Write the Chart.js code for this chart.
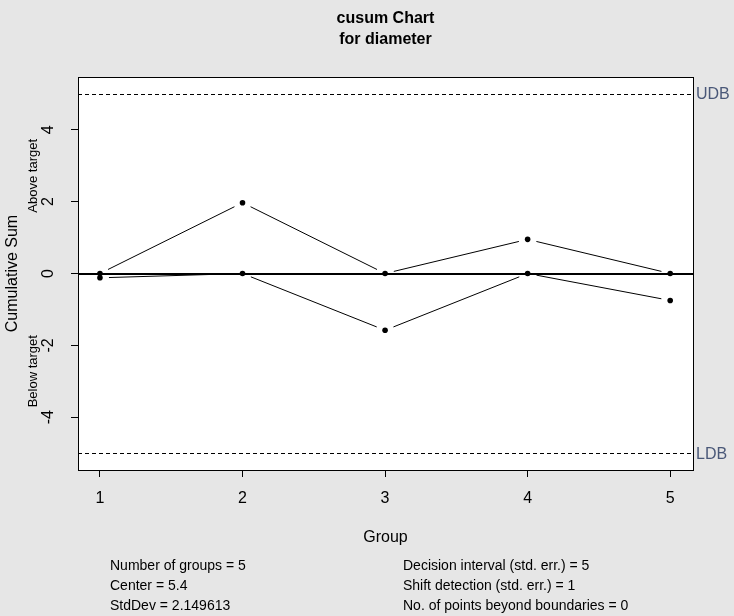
<!DOCTYPE html>
<html>
<head>
<meta charset="utf-8">
<script src="https://cdn.jsdelivr.net/npm/chart.js@4"></script>
<style>
  html, body { margin: 0; padding: 0; background: #e6e6e6; }
  #wrap { width: 734px; height: 616px; }
</style>
</head>
<body>
<div id="wrap"><canvas id="myChart" width="734" height="616"></canvas></div>
<script>
// data
let groups = [1, 2, 3, 4, 5];
let above = [0, 1.97, 0, 0.95, 0];
let below = [-0.12, 0, -1.58, 0, -0.75];
let yTicks = [-4, -2, 0, 2, 4];
let xTicks = [1, 2, 3, 4, 5];
let udb = 5;
let ldb = -5;
let statsLeft = ["Number of groups = 5", "Center = 5.4", "StdDev = 2.149613"];
let statsRight = ["Decision interval (std. err.) = 5", "Shift detection (std. err.) = 1", "No. of points beyond boundaries = 0"];

const font = "'Liberation Sans', Arial, sans-serif";

function toPoints(vals) {
  return groups.map((g, i) => ({ x: g, y: vals[i] }));
}

// draws lines like R type="b": segments that stop short of the points
function gappedLine(ctx, xs, ys, vals, gap) {
  ctx.save();
  ctx.strokeStyle = '#000';
  ctx.lineWidth = 1;
  for (let i = 0; i < vals.length - 1; i++) {
    let x0 = xs.getPixelForValue(groups[i]), y0 = ys.getPixelForValue(vals[i]);
    let x1 = xs.getPixelForValue(groups[i + 1]), y1 = ys.getPixelForValue(vals[i + 1]);
    let dx = x1 - x0, dy = y1 - y0, len = Math.sqrt(dx * dx + dy * dy);
    if (len < gap * 2) continue;
    let ux = dx / len, uy = dy / len;
    ctx.beginPath();
    ctx.moveTo(x0 + ux * gap, y0 + uy * gap);
    ctx.lineTo(x1 - ux * gap, y1 - uy * gap);
    ctx.stroke();
  }
  ctx.restore();
}

const cusumPlugin = {
  id: 'cusum',
  beforeDraw(chart) {
    const ctx = chart.ctx, a = chart.chartArea;
    ctx.save();
    ctx.fillStyle = '#e6e6e6';
    ctx.fillRect(0, 0, chart.width, chart.height);
    ctx.fillStyle = '#ffffff';
    ctx.fillRect(a.left, a.top, a.right - a.left, a.bottom - a.top);
    ctx.restore();
  },
  beforeDatasetsDraw(chart) {
    const ctx = chart.ctx, a = chart.chartArea;
    const xs = chart.scales.x, ys = chart.scales.y;
    ctx.save();
    // decision boundaries
    ctx.strokeStyle = '#000';
    ctx.lineWidth = 1;
    ctx.setLineDash([4, 3]);
    [udb, ldb].forEach(v => {
      let y = Math.round(ys.getPixelForValue(v)) + 0.5;
      ctx.beginPath();
      ctx.moveTo(a.left, y);
      ctx.lineTo(a.right, y);
      ctx.stroke();
    });
    ctx.setLineDash([]);
    // center line
    ctx.lineWidth = 2;
    let y0 = Math.round(ys.getPixelForValue(0));
    ctx.beginPath();
    ctx.moveTo(a.left, y0);
    ctx.lineTo(a.right, y0);
    ctx.stroke();
    ctx.restore();

    gappedLine(ctx, xs, ys, above, 9);
    gappedLine(ctx, xs, ys, below, 9);
  },
  afterDraw(chart) {
    const ctx = chart.ctx, a = chart.chartArea;
    const ys = chart.scales.y;
    ctx.save();
    // box
    ctx.strokeStyle = '#000';
    ctx.lineWidth = 1;
    ctx.strokeRect(Math.round(a.left) + 0.5, Math.round(a.top) + 0.5,
      Math.round(a.right - a.left), Math.round(a.bottom - a.top));

    // titles
    ctx.fillStyle = '#000';
    ctx.textAlign = 'center';
    ctx.textBaseline = 'middle';
    let cx = (a.left + a.right) / 2;
    ctx.font = "bold 16px " + font;
    ctx.fillText("cusum Chart", cx, 19);
    ctx.fillText("for diameter", cx, 40);

    ctx.font = "16px " + font;
    ctx.fillText("Group", cx, 538);

    // y tick labels, rotated
    yTicks.forEach(v => {
      let y = ys.getPixelForValue(v);
      ctx.save();
      ctx.translate(49, y);
      ctx.rotate(-Math.PI / 2);
      ctx.fillText(String(v), 0, 0);
      ctx.restore();
    });

    ctx.save();
    ctx.translate(13, ys.getPixelForValue(0));
    ctx.rotate(-Math.PI / 2);
    ctx.fillText("Cumulative Sum", 0, 0);
    ctx.restore();

    ctx.font = "13px " + font;
    ctx.save();
    ctx.translate(33, ys.getPixelForValue(2.72));
    ctx.rotate(-Math.PI / 2);
    ctx.fillText("Above target", 0, 0);
    ctx.restore();
    ctx.save();
    ctx.translate(33, ys.getPixelForValue(-2.72));
    ctx.rotate(-Math.PI / 2);
    ctx.fillText("Below target", 0, 0);
    ctx.restore();

    // boundary labels
    ctx.font = "16px " + font;
    ctx.fillStyle = '#4a5878';
    ctx.textAlign = 'left';
    ctx.fillText("UDB", a.right + 3, ys.getPixelForValue(udb) + 1);
    ctx.fillText("LDB", a.right + 3, ys.getPixelForValue(ldb) + 1);

    // stats
    ctx.fillStyle = '#000';
    ctx.font = "14px " + font;
    statsLeft.forEach((t, i) => ctx.fillText(t, 110, 566 + i * 20));
    statsRight.forEach((t, i) => ctx.fillText(t, 403, 566 + i * 20));
    ctx.restore();
  }
};

const ctx = document.getElementById('myChart');

new Chart(ctx, {
  type: 'scatter',
  data: {
    datasets: [
      { label: 'Above target', data: toPoints(above), showLine: false,
        pointRadius: 2.8, pointBackgroundColor: '#000', pointBorderColor: '#000', pointBorderWidth: 0 },
      { label: 'Below target', data: toPoints(below), showLine: false,
        pointRadius: 2.8, pointBackgroundColor: '#000', pointBorderColor: '#000', pointBorderWidth: 0 }
    ]
  },
  options: {
    responsive: false,
    animation: false,
    layout: { padding: { left: 0, top: 77, right: 41, bottom: 0 } },
    plugins: { legend: { display: false }, tooltip: { enabled: false } },
    scales: {
      x: {
        type: 'linear',
        min: 0.846,
        max: 5.16,
        afterBuildTicks: s => { s.ticks = xTicks.map(v => ({ value: v })); },
        afterFit: s => { s.height = 146; },
        grid: { drawOnChartArea: false, drawTicks: true, tickLength: 7, color: '#000', lineWidth: 1 },
        border: { display: false },
        ticks: { color: '#000', font: { family: font, size: 16 }, padding: 12,
                 maxRotation: 0, minRotation: 0, callback: v => String(v) }
      },
      y: {
        min: -5.47,
        max: 5.47,
        afterBuildTicks: s => { s.ticks = yTicks.map(v => ({ value: v })); },
        afterFit: s => { s.width = 78; },
        grid: { drawOnChartArea: false, drawTicks: true, tickLength: 7, color: '#000', lineWidth: 1 },
        border: { display: false },
        ticks: { display: false }
      }
    }
  },
  plugins: [cusumPlugin]
});
</script>
</body>
</html>
